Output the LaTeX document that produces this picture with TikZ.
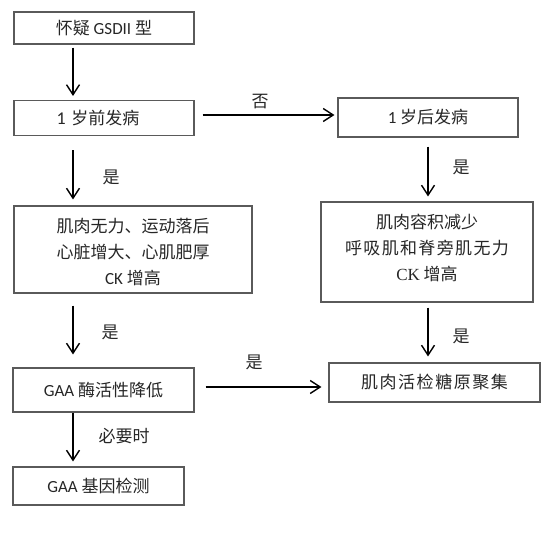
\documentclass[tikz,border=0pt]{standalone}
\usepackage{fontspec}
\setmainfont{Carlito}
\newfontfamily\cjk{Noto Sans CJK SC}
\newfontfamily\songlat{Liberation Serif}
\usetikzlibrary{arrows.meta}
\definecolor{boxc}{HTML}{5A5A5A}
\definecolor{txt}{HTML}{262626}
\begin{document}
\begin{tikzpicture}[x=1pt,y=-1pt,
  box/.style={draw=boxc, line width=1.1pt, inner sep=0pt, align=center, text=txt,
    font=\fontsize{17}{26}\selectfont},
  arr/.style={draw=black, line width=1.4pt,
    -{Straight Barb[length=10pt,width=13pt,line width=1.4pt]}},
  lab/.style={text=txt, inner sep=0pt, font=\cjk\fontsize{17}{20}\selectfont}]
\useasboundingbox (0,0) rectangle (551,537);

% boxes
\node[box, minimum width=180, minimum height=32] (b1) at (104,28)
  {{\cjk 怀疑} GSDII {\cjk 型}};
\node[box, minimum width=180, minimum height=35] (b2) at (104,118)
  {{\fontsize{18}{20}\selectfont 1}\hspace{2pt} {\cjk 岁前发病}\hspace{12pt}};
\node[box, minimum width=180, minimum height=39] (b3) at (428,117.5)
  {1 {\cjk 岁后发病}};
\node[box, minimum width=238, minimum height=87] (b4) at (133,249.5)
  {\rule{0pt}{20pt}{\cjk 肌肉无力、运动落后}\\{\cjk 心脏增大、心肌肥厚}\\CK {\cjk 增高}};
\node[box, minimum width=212, minimum height=100] (b5) at (427,252)
  {{\cjk 肌肉容积减少}\\{\cjk\addfontfeature{LetterSpace=8} 呼吸肌和脊旁肌无力}\\{\songlat CK} {\cjk 增高}\rule[-9.5pt]{0pt}{9.5pt}};
\node[box, minimum width=181, minimum height=44] (b6) at (103.5,390)
  {GAA {\cjk 酶活性降低}};
\node[box, minimum width=211, minimum height=39] (b7) at (434.5,382.5)
  {{\cjk\addfontfeature{LetterSpace=9} 肌肉活检糖原聚集}};
\node[box, minimum width=171, minimum height=38] (b8) at (98.5,486)
  {GAA {\cjk 基因检测}};

% helper coordinates
\coordinate (lc) at (73,0);
\coordinate (h1) at (0,115);
\coordinate (h2) at (0,387);

% connectors
\draw[arr, shorten <=3pt, shorten >=4pt] (b1.south -| lc) -- (b2.north -| lc);
\draw[arr, shorten <=14pt, shorten >=6pt] (b2.south -| lc) -- (b4.north -| lc);
\draw[arr, shorten <=12pt, shorten >=13pt] (b4.south -| lc) -- (b6.north -| lc);
\draw[arr, shorten <=0pt, shorten >=5pt] (b6.south -| lc) -- (b8.north -| lc);
\draw[arr, shorten <=8pt, shorten >=3pt] (b2.east |- h1) -- (b3.west |- h1);
\draw[arr, shorten <=11pt, shorten >=7pt] (b6.east |- h2) -- (b7.west |- h2);
\draw[arr, shorten <=9pt, shorten >=5pt] (b3.south) -- (b3.south |- b5.north);
\draw[arr, shorten <=5pt, shorten >=6pt] (b5.south -| b3.south) -- (b7.north -| b3.south);

% labels
\node[lab] (l1) at (260,102) {否};
\node[lab] (l2) at (111,177) {是};
\node[lab] (l3) at (461,167) {是};
\node[lab] (l4) at (461,336) {是};
\node[lab] (l5) at (110,332) {是};
\node[lab] (l6) at (254,362) {是};
\node[lab] (l7) at (124,436) {必要时};
\end{tikzpicture}
\end{document}
